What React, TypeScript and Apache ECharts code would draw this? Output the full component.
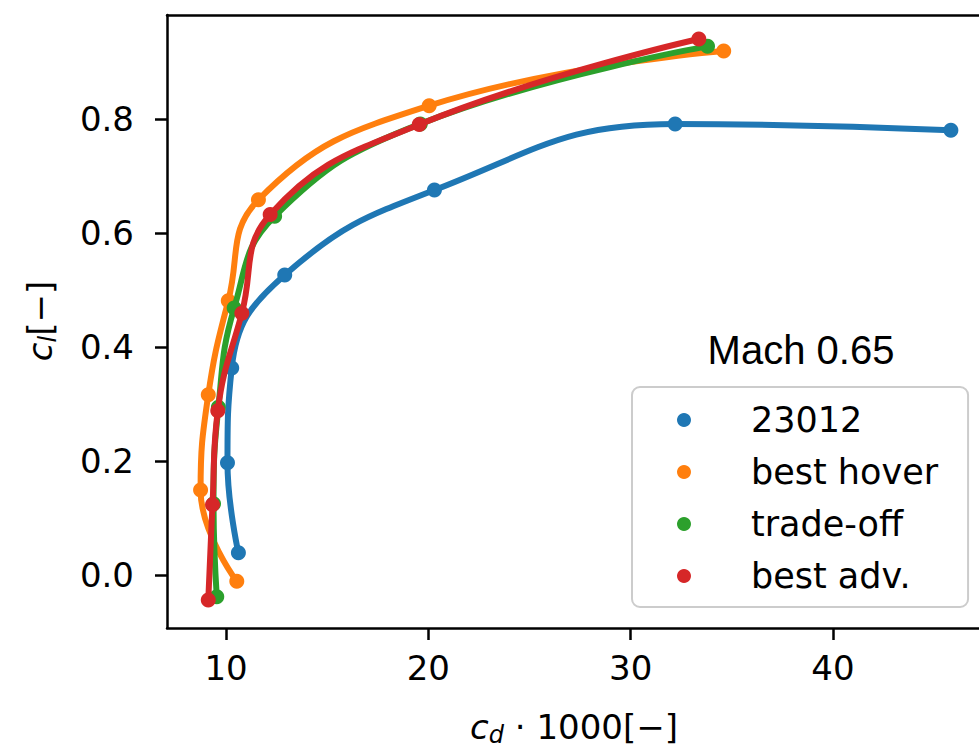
import React, { useEffect, useRef } from "react";
import * as echarts from "echarts";

const seriesNames = ["23012", "best hover", "trade-off", "best adv."];
const seriesColors = ["#1f77b4", "#ff7f0e", "#2ca02c", "#d62728"];

const naca23012X = [10.61, 10.07, 10.28, 12.9, 20.3, 32.2, 45.83];
const naca23012Y = [0.039, 0.197, 0.363, 0.526, 0.675, 0.791, 0.78];

const bestHoverX = [10.53, 8.74, 9.12, 10.11, 11.6, 20.04, 34.6];
const bestHoverY = [-0.011, 0.149, 0.316, 0.481, 0.658, 0.823, 0.919];

const tradeOffX = [9.54, 9.38, 9.62, 10.4, 12.4, 19.6, 33.8];
const tradeOffY = [-0.038, 0.125, 0.294, 0.468, 0.629, 0.791, 0.927];

const bestAdvX = [9.12, 9.33, 9.59, 10.78, 12.18, 19.55, 33.37];
const bestAdvY = [-0.044, 0.123, 0.288, 0.459, 0.632, 0.79, 0.94];

const xTicks = [10, 20, 30, 40];
const yTicks = [0, 0.2, 0.4, 0.6, 0.8];

const allX = [naca23012X, bestHoverX, tradeOffX, bestAdvX];
const allY = [naca23012Y, bestHoverY, tradeOffY, bestAdvY];

const FONT = "DejaVu Sans";

export default function App() {
  const ref = useRef<HTMLDivElement>(null);
  useEffect(() => {
    if (!ref.current) return;
    const chart = echarts.init(ref.current, null, { renderer: "svg" });
    const series = seriesNames.map((name, i) => ({
      name,
      type: "line",
      data: allX[i].map((x, j) => [x, allY[i][j]]),
      smooth: 0.45,
      symbol: "circle",
      symbolSize: 15,
      showSymbol: true,
      itemStyle: { color: seriesColors[i] },
      lineStyle: { color: seriesColors[i], width: 6 },
      z: 2 + i,
    }));
    const axisLineStyle = { color: "#000", width: 2.5 };
    chart.setOption({
      animation: false,
      backgroundColor: "#ffffff",
      grid: {
        left: 167,
        top: 15,
        width: 812,
        height: 613,
        show: false,
      },
      xAxis: [
        {
          type: "value",
          min: 7.08,
          max: 47.22,
          splitLine: { show: false },
          axisLine: { show: true, onZero: false, lineStyle: axisLineStyle },
          axisTick: { show: true, length: 12, lineStyle: axisLineStyle, customValues: xTicks },
          axisLabel: {
            customValues: xTicks,
            color: "#000",
            fontFamily: FONT,
            fontSize: 34,
            margin: 23,
          },
        },
        {
          type: "value",
          position: "top",
          min: 7.08,
          max: 47.22,
          splitLine: { show: false },
          axisLine: { show: true, onZero: false, lineStyle: axisLineStyle },
          axisTick: { show: false },
          axisLabel: { show: false },
        },
      ],
      yAxis: {
        type: "value",
        min: -0.093,
        max: 0.982,
        splitLine: { show: false },
        axisLine: { show: true, onZero: false, lineStyle: axisLineStyle },
        axisTick: { show: true, length: 12, lineStyle: axisLineStyle, customValues: yTicks },
        axisLabel: {
          customValues: yTicks,
          color: "#000",
          fontFamily: FONT,
          fontSize: 34,
          margin: 33,
          formatter: (v: number) => v.toFixed(1),
        },
      },
      legend: {
        orient: "vertical",
        left: 632,
        top: 387,
        padding: [15, 30, 13, 45],
        itemGap: 16,
        itemWidth: 14,
        itemHeight: 14,
        icon: "circle",
        borderColor: "#cccccc",
        borderWidth: 2,
        borderRadius: 8,
        backgroundColor: "rgba(255,255,255,0.8)",
        textStyle: {
          color: "#000",
          fontFamily: FONT,
          fontSize: 35,
          lineHeight: 36,
          padding: [0, 0, 0, 55],
        },
        data: seriesNames,
      },
      graphic: [
        {
          type: "text",
          x: 801,
          y: 350,
          style: {
            text: "Mach 0.65",
            font: "40px 'Liberation Sans'",
            fill: "#000",
            textAlign: "center",
            textVerticalAlign: "middle",
          },
        },
        {
          type: "text",
          x: 574,
          y: 727,
          style: {
            text: "{i|c}{s|d}{n| · 1000[−]}",
            textAlign: "center",
            textVerticalAlign: "middle",
            rich: {
              i: { fontFamily: FONT, fontStyle: "italic", fontSize: 34, lineHeight: 40, fill: "#000" },
              s: { fontFamily: FONT, fontStyle: "italic", fontSize: 24, lineHeight: 24, verticalAlign: "bottom", fill: "#000" },
              n: { fontFamily: FONT, fontSize: 34, lineHeight: 40, fill: "#000" },
            },
          },
        },
        {
          type: "text",
          x: 40,
          y: 321,
          rotation: Math.PI / 2,
          style: {
            text: "{i|c}{s|l}{n|[−]}",
            textAlign: "center",
            textVerticalAlign: "middle",
            rich: {
              i: { fontFamily: FONT, fontStyle: "italic", fontSize: 34, lineHeight: 40, fill: "#000" },
              s: { fontFamily: FONT, fontStyle: "italic", fontSize: 24, lineHeight: 24, verticalAlign: "bottom", fill: "#000" },
              n: { fontFamily: FONT, fontSize: 34, lineHeight: 40, fill: "#000" },
            },
          },
        },
      ],
      series,
    });
    return () => chart.dispose();
  }, []);
  return (
    <div
      ref={ref}
      style={{ position: "absolute", left: 0, top: 0, width: 979, height: 749 }}
    />
  );
}
